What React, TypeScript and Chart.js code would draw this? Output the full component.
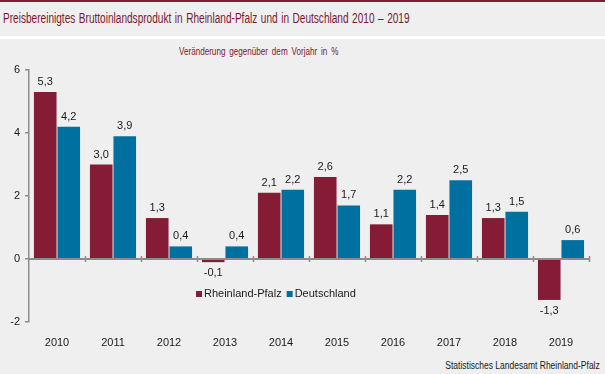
import React, { useEffect, useRef } from "react";
import { Chart, registerables } from "chart.js";

Chart.register(...registerables);

const years = ["2010", "2011", "2012", "2013", "2014", "2015", "2016", "2017", "2018", "2019"];
const rheinlandPfalz = [5.3, 3.0, 1.3, -0.1, 2.1, 2.6, 1.1, 1.4, 1.3, -1.3];
const deutschland = [4.2, 3.9, 0.4, 0.4, 2.2, 1.7, 2.2, 2.5, 1.5, 0.6];
const yTicks = [-2, 0, 2, 4, 6];
const seriesNames = ["Rheinland-Pfalz", "Deutschland"];

const RED = "#851c35";
const BLUE = "#0070a0";
const GRAY = "#8c8c8c";
const BG = "#eeefee";
const FONT = "'Liberation Sans', Arial, sans-serif";

const fmt = (v: number) => v.toFixed(1).replace(".", ",");

const zeroLinePlugin = {
  id: "zeroLine",
  afterDatasetsDraw(chart: any) {
    const { ctx, chartArea, scales } = chart;
    const x = scales.x;
    const y = scales.y;
    const y0 = Math.round(y.getPixelForValue(0));
    ctx.save();
    ctx.strokeStyle = GRAY;
    ctx.lineWidth = 2;
    ctx.beginPath();
    ctx.moveTo(chartArea.left, y0);
    ctx.lineTo(chartArea.right, y0);
    ctx.stroke();
    ctx.lineWidth = 1.5;
    ctx.beginPath();
    const step = x.getPixelForValue(1) - x.getPixelForValue(0);
    for (let i = 1; i <= years.length; i++) {
      const bx = Math.round(x.getPixelForValue(i) - step / 2) + 0.5;
      ctx.moveTo(bx, y0 - 3);
      ctx.lineTo(bx, y0 + 3);
    }
    ctx.stroke();
    ctx.restore();
  },
};

const valueLabelPlugin = {
  id: "valueLabels",
  afterDatasetsDraw(chart: any) {
    const { ctx } = chart;
    ctx.save();
    ctx.font = `11px ${FONT}`;
    ctx.fillStyle = "#1a1a1a";
    ctx.textAlign = "center";
    ctx.textBaseline = "middle";
    chart.data.datasets.forEach((ds: any, di: number) => {
      const meta = chart.getDatasetMeta(di);
      meta.data.forEach((bar: any, i: number) => {
        const v = ds.data[i];
        const yPos = v >= 0 ? bar.y - 10 : bar.y + 11;
        ctx.fillText(fmt(v), bar.x, yPos);
      });
    });
    ctx.restore();
  },
};

const legendPlugin = {
  id: "innerLegend",
  afterDraw(chart: any) {
    const { ctx } = chart;
    ctx.save();
    ctx.font = `11px ${FONT}`;
    ctx.textBaseline = "middle";
    ctx.textAlign = "left";
    let lx = 196;
    const ly = 294;
    chart.data.datasets.forEach((ds: any) => {
      ctx.fillStyle = ds.backgroundColor;
      ctx.fillRect(lx, ly - 3, 6, 6);
      ctx.fillStyle = "#1a1a1a";
      ctx.fillText(ds.label, lx + 8, ly);
      lx += 8 + ctx.measureText(ds.label).width + 5;
    });
    ctx.restore();
  },
};

export default function App() {
  const canvasRef = useRef<HTMLCanvasElement>(null);

  useEffect(() => {
    document.body.style.margin = "0";
    const chart = new Chart(canvasRef.current!, {
      type: "bar",
      data: {
        labels: years,
        datasets: [
          {
            label: seriesNames[0],
            data: rheinlandPfalz,
            backgroundColor: RED,
            categoryPercentage: 0.84,
            barPercentage: 0.96,
          },
          {
            label: seriesNames[1],
            data: deutschland,
            backgroundColor: BLUE,
            categoryPercentage: 0.84,
            barPercentage: 0.96,
          },
        ],
      },
      options: {
        animation: false,
        responsive: false,
        maintainAspectRatio: false,
        layout: { padding: { left: 0, right: 16, top: 70, bottom: 0 } },
        plugins: {
          legend: { display: false },
          tooltip: { enabled: false },
          title: { display: false },
        },
        scales: {
          x: {
            type: "category",
            grid: { display: false },
            border: { display: false },
            ticks: {
              padding: 6,
              color: "#1a1a1a",
              font: { family: FONT, size: 11 },
              maxRotation: 0,
            },
            afterFit: (s: any) => {
              s.height = 52;
            },
          },
          y: {
            min: -2,
            max: 6,
            afterBuildTicks: (s: any) => {
              s.ticks = yTicks.map((v) => ({ value: v }));
            },
            grid: {
              display: true,
              drawOnChartArea: false,
              drawTicks: true,
              tickLength: 4,
              color: GRAY,
              lineWidth: 1.5,
            },
            border: { display: true, color: GRAY, width: 1.5 },
            ticks: {
              padding: 5,
              color: "#1a1a1a",
              font: { family: FONT, size: 11 },
            },
            afterFit: (s: any) => {
              s.width = 29;
            },
          },
        },
      },
      plugins: [zeroLinePlugin, valueLabelPlugin, legendPlugin],
    });
    return () => chart.destroy();
  }, []);

  return (
    <div
      style={{
        position: "fixed",
        left: 0,
        top: 0,
        width: 605,
        height: 374,
        background: BG,
        overflow: "hidden",
        fontFamily: FONT,
      }}
    >
      <div style={{ position: "absolute", left: 0, top: 0, width: 605, height: 2, background: RED }} />
      <div style={{ position: "absolute", left: 0, top: 36, width: 605, height: 3, background: "#ffffff" }} />
      <div
        style={{
          position: "absolute",
          left: 3,
          top: 10,
          fontSize: 14,
          color: "#7d1832",
          whiteSpace: "nowrap",
          transform: "scaleX(0.72)",
          transformOrigin: "left center",
          wordSpacing: "1px",
        }}
      >
        Preisbereinigtes Bruttoinlandsprodukt in Rheinland-Pfalz und in Deutschland 2010 – 2019
      </div>
      <div
        style={{
          position: "absolute",
          left: 179,
          top: 46,
          fontSize: 10,
          color: "#7d1832",
          whiteSpace: "nowrap",
          wordSpacing: "2px",
          transform: "scaleX(0.81)",
          transformOrigin: "left center",
        }}
      >
        Veränderung gegenüber dem Vorjahr in %
      </div>
      <div
        style={{
          position: "absolute",
          right: 5,
          top: 360,
          fontSize: 10,
          color: "#1a1a1a",
          whiteSpace: "nowrap",
          transform: "scaleX(0.85)",
          transformOrigin: "right center",
        }}
      >
        Statistisches Landesamt Rheinland-Pfalz
      </div>
      <canvas
        ref={canvasRef}
        width={605}
        height={374}
        style={{ position: "absolute", left: 0, top: 0, width: 605, height: 374 }}
      />
    </div>
  );
}
